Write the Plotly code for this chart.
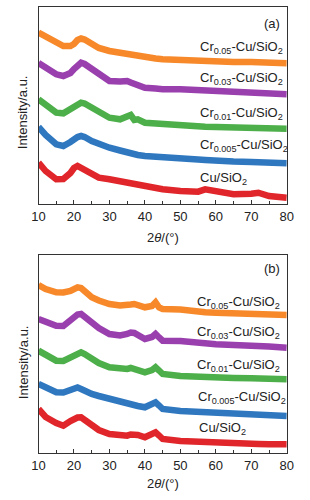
import plotly.graph_objects as go

# ---------------- data ----------------
two_theta_a = [10, 12, 15, 17, 19, 20, 21, 22, 23, 25, 27, 30, 33, 35, 36, 37, 38, 40,
               43, 45, 50, 55, 57, 60, 65, 70, 72, 75, 80]
a_cr005 = [171.3, 167, 161.3, 158, 158, 160, 164, 165.5, 164.5, 161, 156, 153, 151, 150, 150,
           149, 148, 146.5, 145.5, 144.7, 143.7, 143, 142.7, 142.3, 142, 142, 141.7, 141.2, 140.7]
a_cr003 = [141, 136, 129.7, 128, 131, 135, 139, 141.3, 140, 134.7, 129, 123, 122.5, 123, 121.5,
           120, 118, 116.3, 115.5, 114.7, 114.7, 114, 113.5, 113, 112.7, 112.3, 111.7, 111, 109.7]
a_cr001 = [104.7, 99, 91.3, 90.7, 95, 98, 100.5, 101.3, 100.5, 96.3, 92, 86.3, 84.7, 88, 89,
           84, 84.7, 81.3, 80.5, 79.7, 78, 77.5, 77.3, 77, 76.7, 76.3, 76, 75.7, 75.3]
a_cr0005 = [77, 69, 59.7, 58, 62, 65, 67, 68, 67, 63, 60, 56.3, 53.5, 51.3, 51, 50, 49, 48,
            47, 46.3, 45.5, 44.5, 44, 43, 42.5, 42, 41.5, 41, 40.7]
a_cu = [41.3, 33, 24.7, 25, 31, 36, 38, 36.3, 34, 29.7, 26.3, 24.7, 22.5, 21.3, 20.7, 20, 19.3,
        18, 16, 14.7, 13, 12.3, 14.7, 13, 9.7, 10.3, 11.3, 8, 6.3]

two_theta_b = [10, 12, 15, 17, 19, 20, 21, 22, 23, 25, 27, 30, 33, 35, 36, 37, 38, 40, 42, 43,
               44, 45, 50, 55, 57, 60, 65, 70, 72, 75, 80]
b_cr005 = [168, 164, 160.7, 160.5, 162, 164, 165.7, 165, 162.3, 155.7, 152.5, 149, 147.5, 147.3,
           148.5, 149, 147.5, 145.7, 147, 150.7, 145.5, 144, 143.5, 141, 140.7, 140.3, 140, 139.7,
           139.2, 138.7, 138]
b_cr003 = [134, 131, 127.3, 127, 133, 136, 138.5, 139, 136, 130.7, 125, 119, 117.5, 119, 120.5,
           120, 117.5, 114, 116, 119, 115.5, 112.3, 112, 110, 109.5, 108.7, 108, 107.7, 107,
           106.5, 105.3]
b_cr001 = [102.3, 98, 92.3, 92, 96, 98.5, 100.5, 100.7, 99, 94, 90, 85.7, 84.5, 84, 85, 84, 83,
           80.7, 83, 85.7, 82.5, 79, 77, 76, 75.7, 75.3, 75, 74.7, 74.5, 74, 73.7]
b_cr0005 = [69, 65, 60.7, 60.5, 63, 65, 65.5, 64, 62, 59, 57, 54, 51, 49, 48.5, 48, 47, 45.7,
            48, 50.7, 47.5, 44, 42, 41, 40.5, 39.7, 39, 38.7, 38.2, 37.7, 37]
b_cu = [44, 36, 30, 27.3, 32, 34, 35.5, 35.7, 33.5, 27.3, 23, 19, 17.5, 17.3, 18.5, 19, 18,
        15.7, 18, 20.7, 17.5, 14, 12, 11, 10.7, 10.3, 9.8, 9.3, 9, 8.8, 8.7]

series_names = ["Cr<sub>0.05</sub>-Cu/SiO<sub>2</sub>", "Cr<sub>0.03</sub>-Cu/SiO<sub>2</sub>",
                "Cr<sub>0.01</sub>-Cu/SiO<sub>2</sub>", "Cr<sub>0.005</sub>-Cu/SiO<sub>2</sub>",
                "Cu/SiO<sub>2</sub>"]
label_pos_a = [[55, 157], [55, 126], [55, 91], [55, 59], [55, 26]]
label_pos_b = [[54, 151], [54, 121], [54, 88], [54.3, 56], [54.8, 25]]
x_ticks = [10, 20, 30, 40, 50, 60, 70, 80]

colors = ["#F7892A", "#9A3FAE", "#4DAF4A", "#2F78C0", "#E0262A"]
FONT = "Liberation Sans, Arial, sans-serif"

fig = go.Figure()

panels = [
    ("x", "y", two_theta_a, [a_cr005, a_cr003, a_cr001, a_cr0005, a_cu], label_pos_a),
    ("x2", "y2", two_theta_b, [b_cr005, b_cr003, b_cr001, b_cr0005, b_cu], label_pos_b),
]
for xa, ya, xs, ys_list, lpos in panels:
    for name, ys, c in zip(series_names, ys_list, colors):
        fig.add_trace(go.Scatter(x=xs, y=ys, mode="lines", name=name, xaxis=xa, yaxis=ya,
                                 line=dict(color=c, width=6.5), showlegend=False,
                                 hoverinfo="skip"))
    for name, (lx, ly) in zip(series_names, lpos):
        fig.add_annotation(x=lx, y=ly, xref=xa, yref=ya, text=name, showarrow=False,
                           xanchor="left", yanchor="middle",
                           font=dict(family=FONT, size=13, color="#222"))

W, H = 310, 500
def dom_x(l, r):
    return [l / W, r / W]
def dom_y(top, bottom):
    return [(H - bottom) / H, (H - top) / H]

axis_common = dict(range=[10, 80], tickvals=x_ticks, ticks="inside", ticklen=4, tickwidth=1.2,
                   tickcolor="#333", showline=True, linecolor="#333", linewidth=1.3, mirror=True,
                   showgrid=False, zeroline=False,
                   tickfont=dict(family=FONT, size=13, color="#222"),
                   minor=dict(dtick=5, ticks="inside", ticklen=2.5, tickwidth=1.2, tickcolor="#333"))
yaxis_common = dict(showticklabels=False, ticks="", showline=True, linecolor="#333", linewidth=1.3,
                    mirror=True, showgrid=False, zeroline=False)

fig.update_layout(
    width=W, height=H, margin=dict(l=0, r=0, t=0, b=0),
    paper_bgcolor="white", plot_bgcolor="white",
    xaxis=dict(domain=dom_x(33, 293), anchor="y", **axis_common),
    yaxis=dict(domain=dom_y(7, 204), anchor="x", range=[0, 197], **yaxis_common),
    xaxis2=dict(domain=dom_x(33, 293), anchor="y2", **axis_common),
    yaxis2=dict(domain=dom_y(255, 453), anchor="x2", range=[0, 198], **yaxis_common),
)

# axis titles and panel tags
texts = [
    (163 / W, 1 - 237 / H, "2<i>θ</i>/(°)", 0),
    (163 / W, 1 - 483 / H, "2<i>θ</i>/(°)", 0),
    (17 / W, 1 - 112 / H, "Intensity/a.u.", -90),
    (17 / W, 1 - 362 / H, "Intensity/a.u.", -90),
    (278 / W, 1 - 23 / H, "(a)", 0),
    (278 / W, 1 - 268 / H, "(b)", 0),
]
for x, y, t, ang in texts:
    fig.add_annotation(x=x, y=y, xref="paper", yref="paper", text=t, showarrow=False,
                       textangle=ang, xanchor="center", yanchor="middle",
                       font=dict(family=FONT, size=13, color="#222"))

fig.write_html("out.html", config={"displayModeBar": False},
               post_script="document.body.style.margin='0';document.body.style.overflow='hidden';")
